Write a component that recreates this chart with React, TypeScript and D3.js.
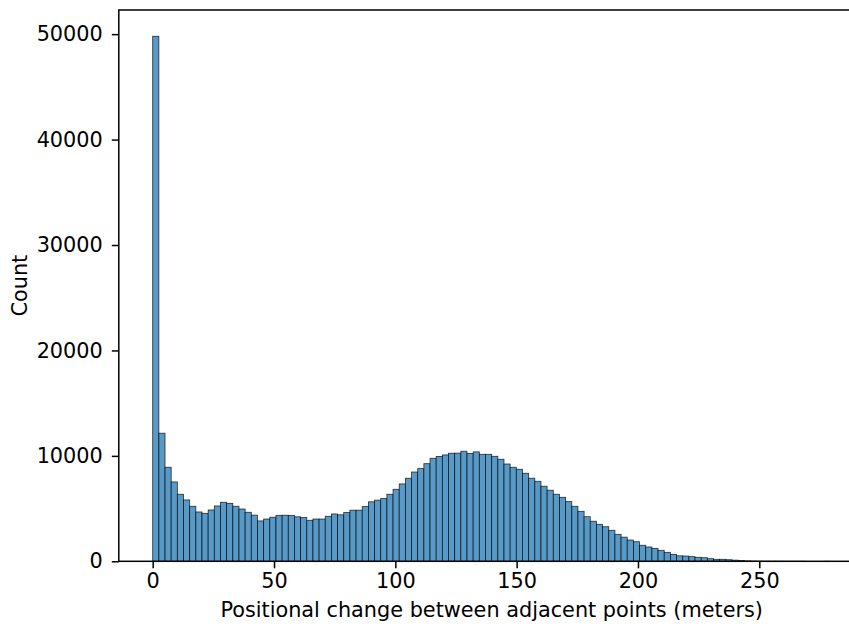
import { useEffect, useRef } from "react";
import * as d3 from "d3";

// histogram counts, one per bin (bins start at 0)
const counts = [
  49800, 12150, 8920, 7530, 6360, 5820, 5220, 4680, 4550, 4870,
  5250, 5600, 5500, 5220, 4960, 4650, 4380, 3830, 4010, 4180,
  4360, 4370, 4340, 4220, 4150, 3890, 4010, 4010, 4270, 4490,
  4410, 4620, 4850, 4850, 5190, 5640, 5800, 5960, 6360, 6830,
  7340, 7880, 8470, 8790, 9260, 9770, 9950, 10090, 10250, 10260,
  10440, 10230, 10380, 10150, 10150, 9960, 9680, 9230, 8920, 8730,
  8350, 7880, 7590, 7120, 6740, 6360, 6070, 5660, 5220, 4740,
  4230, 3800, 3510, 3280, 2940, 2560, 2290, 2020, 1860, 1520,
  1360, 1230, 1040, 850, 660, 520, 500, 440, 380, 340,
  250, 190, 190, 150, 110, 70, 40, 25, 15, 10,
  6, 4, 3, 2, 1, 1, 0, 0, 0, 1,
];
const binWidth = 2.54;
const xTicks = [0, 50, 100, 150, 200, 250];
const yTicks = [0, 10000, 20000, 30000, 40000, 50000];
const xLabel = "Positional change between adjacent points (meters)";
const yLabel = "Count";

const App = () => {
  const svgRef = useRef<SVGSVGElement>(null);

  useEffect(() => {
    const w = 849;
    const h = 628;
    const left = 118.8;
    const top = 10;
    const bottom = 561.3;
    const font = "'DejaVu Sans', sans-serif";
    const fs = 20.8;

    const svg = d3.select(svgRef.current).attr("width", w).attr("height", h);
    svg.selectAll("*").remove();

    const xMax = counts.length * binWidth;
    const pad = xMax * 0.05;
    const pxPerUnit = 2.4264;
    const right = left + (xMax + 2 * pad) * pxPerUnit;

    const xScale = d3.scaleLinear().domain([-pad, xMax + pad]).range([left, right]);
    const yScale = d3
      .scaleLinear()
      .domain([0, d3.max(counts)! * 1.05])
      .range([bottom, top]);

    svg
      .append("g")
      .selectAll("rect")
      .data(counts)
      .join("rect")
      .attr("x", (d, i) => xScale(i * binWidth))
      .attr("width", (d, i) => xScale((i + 1) * binWidth) - xScale(i * binWidth))
      .attr("y", (d) => yScale(d))
      .attr("height", (d) => bottom - yScale(d))
      .attr("fill", "#5799c7")
      .attr("stroke", "rgba(0,0,0,0.78)")
      .attr("stroke-width", 0.8);

    const xAxis = d3
      .axisBottom(xScale)
      .tickValues(xTicks)
      .tickSize(7)
      .tickPadding(5)
      .tickFormat((d) => String(d));
    const gx = svg.append("g").attr("transform", `translate(0,${bottom})`).call(xAxis);
    gx.select(".domain").remove();
    gx.selectAll("line").attr("stroke", "#000").attr("stroke-width", 1.5);
    gx.selectAll("text").attr("font-family", font).attr("font-size", fs).attr("fill", "#000");

    const yAxis = d3
      .axisLeft(yScale)
      .tickValues(yTicks)
      .tickSize(7)
      .tickPadding(9)
      .tickFormat((d) => String(d));
    const gy = svg.append("g").attr("transform", `translate(${left},0)`).call(yAxis);
    gy.select(".domain").remove();
    gy.selectAll("line").attr("stroke", "#000").attr("stroke-width", 1.5);
    gy.selectAll("text").attr("font-family", font).attr("font-size", fs).attr("fill", "#000");

    // frame
    svg
      .append("rect")
      .attr("x", left)
      .attr("y", top)
      .attr("width", right - left)
      .attr("height", bottom - top)
      .attr("fill", "none")
      .attr("stroke", "#000")
      .attr("stroke-width", 1.5);

    svg
      .append("text")
      .attr("x", (left + right) / 2)
      .attr("y", 617)
      .attr("text-anchor", "middle")
      .attr("font-family", font)
      .attr("font-size", fs)
      .text(xLabel);

    svg
      .append("text")
      .attr("transform", `translate(27,${(top + bottom) / 2}) rotate(-90)`)
      .attr("text-anchor", "middle")
      .attr("font-family", font)
      .attr("font-size", fs)
      .text(yLabel);
  }, []);

  return (
    <div style={{ position: "absolute", left: 0, top: 0 }}>
      <svg ref={svgRef} style={{ display: "block" }}></svg>
    </div>
  );
};

export default App;
